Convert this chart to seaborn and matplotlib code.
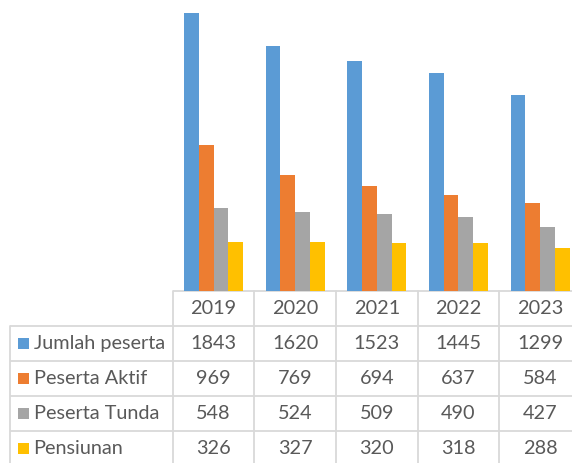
import matplotlib
matplotlib.use("Agg")
import matplotlib.pyplot as plt
import seaborn as sns
import pandas as pd
from matplotlib.patches import Rectangle

years = ["2019", "2020", "2021", "2022", "2023"]
series = ["Jumlah peserta", "Peserta Aktif", "Peserta Tunda", "Pensiunan"]
jumlah_peserta = [1843, 1620, 1523, 1445, 1299]
peserta_aktif = [969, 769, 694, 637, 584]
peserta_tunda = [548, 524, 509, 490, 427]
pensiunan = [326, 327, 320, 318, 288]
colors = ["#5B9BD5", "#ED7D31", "#A5A5A5", "#FFC000"]

values = [jumlah_peserta, peserta_aktif, peserta_tunda, pensiunan]
df = pd.DataFrame(
    [(y, s, v) for s, vals in zip(series, values) for y, v in zip(years, vals)],
    columns=["year", "series", "value"],
)

sns.set_theme(style="white")
plt.rcParams["font.family"] = ["Lato", "DejaVu Sans"]

W, H = 572, 463
fig = plt.figure(figsize=(W / 100, H / 100), dpi=100)

# geometry in pixels
x0 = 172.7
cat_w = 81.65
base_y = 291.0
px_per_unit = 0.151
ymax = 2000

ax = fig.add_axes([x0 / W, (H - base_y) / H, cat_w * 5 / W, ymax * px_per_unit / H])
sns.barplot(data=df, x="year", y="value", hue="series", hue_order=series,
            order=years, palette=colors, width=0.722, linewidth=0,
            saturation=1, legend=False, ax=ax)
ax.set_xlim(-0.5, 4.5)
ax.set_ylim(0, ymax)
ax.axis("off")

# overlay in pixel coordinates for the data table
ov = fig.add_axes([0, 0, 1, 1], zorder=-1)
ov.set_xlim(0, W)
ov.set_ylim(H, 0)
ov.axis("off")
ov.patch.set_alpha(0)

line_c = "#D9D9D9"
lw = 1.3
row_h = 35.0
left_x = 9.5
right_x = x0 + cat_w * 5 + 5
bottom_y = base_y + row_h * 5

# horizontal lines
ov.plot([x0, right_x], [base_y, base_y], color=line_c, lw=lw, solid_capstyle="butt")
for i in range(1, 6):
    y = base_y + row_h * i
    ov.plot([left_x, right_x], [y, y], color=line_c, lw=lw, solid_capstyle="butt")
# vertical lines
ov.plot([left_x, left_x], [base_y + row_h, bottom_y], color=line_c, lw=lw)
for j in range(6):
    x = x0 + cat_w * j
    ov.plot([x, x], [base_y, bottom_y], color=line_c, lw=lw)

txt_c = "#595959"
fs = 14.3
for j, yr in enumerate(years):
    ov.text(x0 + cat_w * (j + 0.5), base_y + row_h * 0.5, yr, ha="center",
            va="center", fontsize=fs, color=txt_c)
for i, (s, vals, c) in enumerate(zip(series, values, colors)):
    yc = base_y + row_h * (i + 1.5)
    ov.add_patch(Rectangle((18.3, yc - 5.3), 10.5, 10.5, color=c, lw=0))
    ov.text(33.5, yc, s, ha="left", va="center", fontsize=fs, color=txt_c)
    for j, v in enumerate(vals):
        ov.text(x0 + cat_w * (j + 0.5), yc, str(v), ha="center", va="center",
                fontsize=fs, color=txt_c)

fig.savefig("out.png", dpi=100)
